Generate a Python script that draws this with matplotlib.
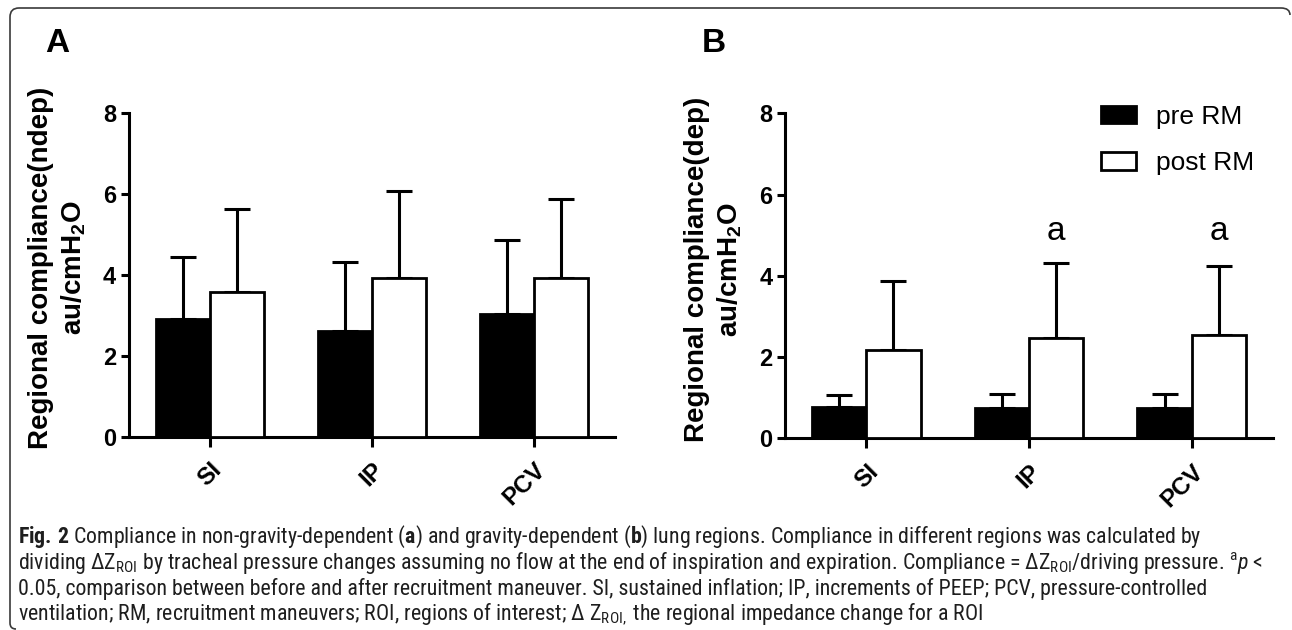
import matplotlib
matplotlib.use('Agg')
import matplotlib.pyplot as plt
from matplotlib import font_manager
from matplotlib.path import Path
from matplotlib.patches import PathPatch
import matplotlib.transforms as mtransforms
import numpy as np

# ---------------- data ----------------
categories = ['SI', 'IP', 'PCV']
series_names = ['pre RM', 'post RM']
yticks = [0, 2, 4, 6, 8]

ndep_pre = [2.91, 2.61, 3.03]
ndep_pre_sd = [1.53, 1.71, 1.83]
ndep_post = [3.57, 3.91, 3.93]
ndep_post_sd = [2.05, 2.16, 1.93]

dep_pre = [0.76, 0.74, 0.74]
dep_pre_sd = [0.31, 0.34, 0.34]
dep_post = [2.17, 2.48, 2.54]
dep_post_sd = [1.70, 1.83, 1.69]

dep_sig = ['', 'a', 'a']
sig_y = 5.09

ylabel_a = 'Regional compliance(ndep)\nau/cmH$_\\mathsf{2}$O'
ylabel_b = 'Regional compliance(dep)\nau/cmH$_\\mathsf{2}$O'

caption_lines = [
    '$\\mathbf{Fig.}\\,\\mathbf{2}$ Compliance in non-gravity-dependent ($\\mathbf{a}$) and gravity-dependent ($\\mathbf{b}$) lung regions. Compliance in different regions was calculated by',
    'dividing \u0394$\\mathrm{Z}_{\\mathrm{ROI}}$ by tracheal pressure changes assuming no flow at the end of inspiration and expiration. Compliance = \u0394$\\mathrm{Z}_{\\mathrm{ROI}}$/driving pressure. $^{\\mathrm{a}}\\mathit{p}$ <',
    '0.05, comparison between before and after recruitment maneuver. SI, sustained inflation; IP, increments of PEEP; PCV, pressure-controlled',
    'ventilation; RM, recruitment maneuvers; ROI, regions of interest; \u0394 $\\mathrm{Z}_{\\mathrm{ROI,}}$ the regional impedance change for a ROI',
]

# ---------------- fonts ----------------
avail = {f.name for f in font_manager.fontManager.ttflist}
cap_family = 'Liberation Sans Narrow'
if cap_family not in avail:
    cap_family = 'Roboto Condensed' if 'Roboto Condensed' in avail else 'Liberation Sans'

plt.rcParams['font.family'] = ['Liberation Sans', 'DejaVu Sans']
plt.rcParams['mathtext.fontset'] = 'custom'
plt.rcParams['mathtext.rm'] = cap_family
plt.rcParams['mathtext.it'] = cap_family + ':italic'
plt.rcParams['mathtext.bf'] = cap_family + ':bold'
plt.rcParams['mathtext.sf'] = 'Liberation Sans:bold'

W, H = 1292, 630
fig = plt.figure(figsize=(W / 100, H / 100), dpi=100)
fig.patch.set_facecolor('white')


def px_axes(x0, y_zero, x1, y_top):
    return fig.add_axes([x0 / W, 1 - y_zero / H, (x1 - x0) / W, (y_zero - y_top) / H])


axA = px_axes(128.5, 436.7, 615, 112.7)
axB = px_axes(785, 438.3, 1273, 113.3)

w = 1 / 3
x = np.arange(len(categories))


def draw_panel(ax, pre, pre_sd, post, post_sd, ylabel):
    b1 = ax.bar(x - w / 2, pre, w, color='black', edgecolor='black', linewidth=2, label=series_names[0], zorder=3)
    b2 = ax.bar(x + w / 2, post, w, color='white', edgecolor='black', linewidth=2, label=series_names[1], zorder=3)
    ax.errorbar(x - w / 2, pre, yerr=[np.zeros(len(pre)), pre_sd], fmt='none', ecolor='black',
                elinewidth=2.2, capsize=9.5, capthick=2.2, zorder=2)
    ax.errorbar(x + w / 2, post, yerr=[np.zeros(len(post)), post_sd], fmt='none', ecolor='black',
                elinewidth=2.2, capsize=9.5, capthick=2.2, zorder=2)
    ax.set_xlim(-0.5, 2.5)
    ax.set_ylim(0, 8)
    ax.set_yticks(yticks)
    ax.set_xticks(x)
    ax.set_xticklabels(categories, rotation=45, ha='right', va='top', rotation_mode='anchor',
                       fontsize=17.5, fontweight='bold')
    for lab in ax.get_yticklabels():
        lab.set_fontweight('bold')
        lab.set_fontsize(17)
    for s in ['top', 'right']:
        ax.spines[s].set_visible(False)
    for s in ['left', 'bottom']:
        ax.spines[s].set_linewidth(2.2)
    ax.tick_params(axis='y', length=6, width=2.2, pad=3)
    ax.tick_params(axis='x', length=7.5, width=2.2, pad=8)
    ax.set_ylabel(ylabel, fontsize=20, fontweight='bold', ha='center', va='center', linespacing=1.25)
    ax.yaxis.set_label_coords(-0.145, 0.52)
    ax.patch.set_alpha(0)
    return b1, b2


draw_panel(axA, ndep_pre, ndep_pre_sd, ndep_post, ndep_post_sd, ylabel_a)
b1, b2 = draw_panel(axB, dep_pre, dep_pre_sd, dep_post, dep_post_sd, ylabel_b)

for xi, s in zip(x, dep_sig):
    if s:
        axB.text(xi + w / 2, sig_y, s, ha='center', va='center', fontsize=24)

axB.legend(handles=[b1, b2], loc='upper left', bbox_to_anchor=(1100.7 / W, 1 - 105 / H),
           bbox_transform=fig.transFigure, frameon=False, fontsize=19, handlelength=1.33,
           handleheight=0.64, handletextpad=0.76, labelspacing=0.85, borderpad=0, borderaxespad=0)

fig.text(45 / W, 1 - 43 / H, 'A', fontsize=24, fontweight='bold', ha='left', va='center')
fig.text(702 / W, 1 - 43 / H, 'B', fontsize=24, fontweight='bold', ha='left', va='center')

# ---------------- caption ----------------
cap_color = '#1e1e1e'
cap_x = 18
cap_baselines = [543, 569, 595, 620]
cap_targets = [(0, 1240 - cap_x), (1, 1268 - cap_x)]
renderer = fig.canvas.get_renderer()
sizes = []
for idx, target in cap_targets:
    probe = fig.text(cap_x / W, 0.5, caption_lines[idx], fontsize=15, family=cap_family)
    wid = probe.get_window_extent(renderer).width
    probe.remove()
    sizes.append(15 * target / wid)
cap_size = min(sizes)
for line, yb in zip(caption_lines, cap_baselines):
    fig.text(cap_x / W, 1 - yb / H, line, fontsize=cap_size, family=cap_family, color=cap_color,
             ha='left', va='baseline')

# ---------------- frame ----------------
L, T, R, B = 10, 8, 1290, 629
r = 9
pts = [(L + 6, B), (L, B), (L, B - 6), (L, T + r), (L, T), (L + r, T), (R - r, T), (R, T), (R, T + r - 2)]
codes = [Path.MOVETO, Path.CURVE3, Path.CURVE3, Path.LINETO, Path.CURVE3, Path.CURVE3, Path.LINETO,
         Path.CURVE3, Path.CURVE3]
pts_disp = [(px, H - py) for px, py in pts]
frame = PathPatch(Path(pts_disp, codes), transform=mtransforms.IdentityTransform(), fill=False,
                  edgecolor='#3a3a3a', linewidth=1.2)
fig.add_artist(frame)

fig.savefig('out.png', dpi=100, facecolor='white')
